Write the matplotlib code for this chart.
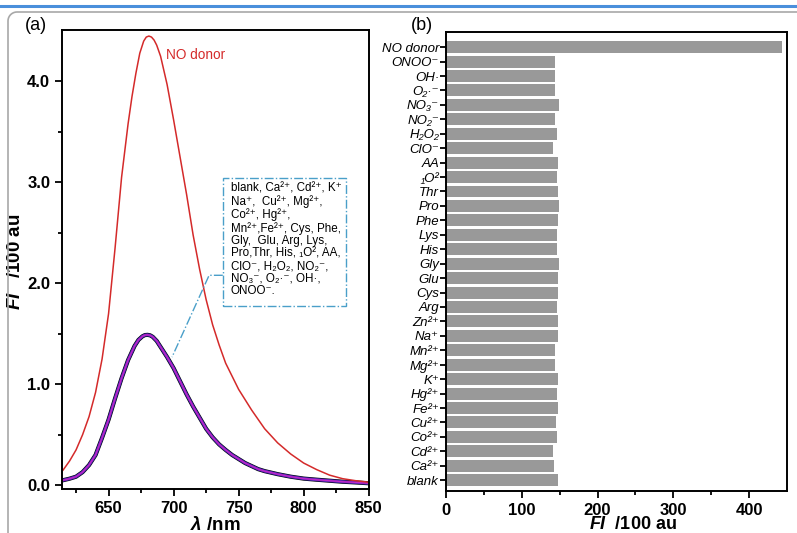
import numpy as np
import matplotlib
matplotlib.use('Agg')
import matplotlib.pyplot as plt
from matplotlib.lines import Line2D
from matplotlib.patches import Rectangle

plt.rcParams['font.family'] = ['Liberation Sans', 'DejaVu Sans']
plt.rcParams['mathtext.fontset'] = 'custom'
plt.rcParams['mathtext.bfit'] = 'Liberation Sans:italic:bold'
plt.rcParams['mathtext.it'] = 'Liberation Sans:italic'
plt.rcParams['mathtext.rm'] = 'Liberation Sans'

# panel (a): emission spectra
wl_red = [615, 620, 625, 630, 635, 640, 645, 650, 655, 660, 665, 668, 671, 674,
          677, 679, 681, 683, 685, 687, 690, 695, 700, 705, 710, 715, 720, 725,
          730, 735, 740, 745, 750, 760, 770, 780, 790, 800, 810, 820, 830, 840, 850]
fi_no_donor = [0.15, 0.24, 0.35, 0.50, 0.68, 0.92, 1.25, 1.70, 2.35, 3.05, 3.58,
               3.85, 4.08, 4.28, 4.40, 4.44, 4.45, 4.44, 4.41, 4.36, 4.25, 3.97,
               3.62, 3.25, 2.88, 2.48, 2.14, 1.84, 1.59, 1.39, 1.21, 1.08, 0.95,
               0.745, 0.56, 0.42, 0.31, 0.22, 0.155, 0.10, 0.065, 0.045, 0.03]
wl_others = [615, 620, 625, 630, 635, 640, 645, 650, 655, 660, 665, 670, 673,
             676, 678, 680, 682, 684, 687, 690, 695, 700, 705, 710, 715, 720,
             725, 730, 735, 740, 745, 750, 755, 760, 765, 770, 780, 790, 800,
             810, 820, 830, 840, 850]
fi_others = [0.05, 0.065, 0.085, 0.13, 0.20, 0.30, 0.47, 0.65, 0.86, 1.06, 1.24,
             1.38, 1.44, 1.475, 1.488, 1.49, 1.485, 1.47, 1.43, 1.37, 1.27, 1.16,
             1.03, 0.90, 0.78, 0.67, 0.56, 0.475, 0.405, 0.35, 0.30, 0.26, 0.22,
             0.19, 0.16, 0.14, 0.11, 0.085, 0.066, 0.055, 0.045, 0.035, 0.028, 0.02]

box_text = ("blank, Ca²⁺, Cd²⁺, K⁺\n"
            "Na⁺,  Cu²⁺, Mg²⁺,\n"
            "Co²⁺, Hg²⁺,\n"
            "Mn²⁺,Fe²⁺, Cys, Phe,\n"
            "Gly,  Glu, Arg, Lys,\n"
            "Pro,Thr, His, ₁O², AA,\n"
            "ClO⁻, H₂O₂, NO₂⁻,\n"
            "NO₃⁻, O₂·⁻, OH·,\n"
            "ONOO⁻.")

# panel (b): bar chart, bottom to top
species = ['blank', 'Ca²⁺', 'Cd²⁺', 'Co²⁺', 'Cu²⁺', 'Fe²⁺', 'Hg²⁺', 'K⁺',
           'Mg²⁺', 'Mn²⁺', 'Na⁺', 'Zn²⁺', 'Arg', 'Cys', 'Glu', 'Gly', 'His',
           'Lys', 'Phe', 'Pro', 'Thr', '₁O²', 'AA', 'ClO⁻', 'H₂O₂', 'NO₂⁻',
           'NO₃⁻', 'O₂·⁻', 'OH·', 'ONOO⁻', 'NO donor']
fi_bar = [147.5, 143, 141.8, 146.3, 145.3, 148.4, 146.3, 148.4, 144, 144,
          147.5, 147.5, 146.3, 147.5, 147.5, 149.7, 146.6, 146.6, 148.4, 149.7,
          148.4, 146.6, 148.4, 141.8, 146.6, 144, 149, 144, 144, 144, 443]

fig = plt.figure(figsize=(7.97, 5.33), dpi=100)

# page decoration lines
fig.add_artist(Line2D([0, 1], [1 - 5.7/533, 1 - 5.7/533], color='#4a8fdb', lw=2.2))
ang = np.linspace(np.pi, np.pi/2, 12)
r = 9
arc_x = 17 + r*np.cos(ang)
arc_y = 21 - r*np.sin(ang)
px = np.concatenate([[8], arc_x, [797]])
py = np.concatenate([[533], arc_y, [12]])
fig.add_artist(Line2D(px/797, 1 - py/533, color='#a8a8a8', lw=1.2))

# ---- (a)
ax = fig.add_axes([62/797, 1 - 489.3/533, 306.7/797, 459.3/533])
ax.plot(wl_others, fi_others, color='black', lw=3.0)
ax.plot(wl_others, fi_others, color='#3a2ab0', lw=2.2)
ax.plot(wl_others, fi_others, color='#8a20c0', lw=1.5)
ax.plot(wl_others, fi_others, color='#c828c8', lw=0.7)
ax.plot(wl_red, fi_no_donor, color='#d42a2a', lw=1.1)
ax.set_xlim(614.2, 850)
ax.set_ylim(-0.04, 4.51)
ax.set_xticks([650, 700, 750, 800, 850])
ax.set_xticks([625, 675, 725, 775, 825], minor=True)
ax.set_yticks([0, 1, 2, 3, 4])
ax.set_yticklabels(['0.0', '1.0', '2.0', '3.0', '4.0'])
ax.set_yticks([0.5, 1.5, 2.5, 3.5], minor=True)
ax.tick_params(which='both', direction='out', width=1.3, labelsize=12)
ax.tick_params(which='major', length=5)
ax.tick_params(which='minor', length=3)
for lab in ax.get_xticklabels() + ax.get_yticklabels():
    lab.set_fontweight('bold')
for s in ax.spines.values():
    s.set_linewidth(1.4)
ax.set_xlabel(r'$\mathbfit{\lambda}$ /nm', fontsize=13.5, fontweight='bold', labelpad=0)
ax.set_ylabel(r'$\mathbfit{FI}$   /100 au', fontsize=13.5, fontweight='bold')
ax.yaxis.set_label_coords(-(62 - 24)/306.7, 0.495)
ax.text(694.2, 4.26, 'NO donor', color='#d42a2a', fontsize=9.8, va='center')

box_col = '#4a9fc9'
ax.add_patch(Rectangle((737.8, 1.775), 94.9, 1.265, fill=False, ec=box_col,
                       lw=1.0, ls='-.'))
ax.plot([737.8, 727.3, 698.8], [2.08, 2.08, 1.27], color=box_col, lw=1.0, ls='-.')
ax.text(744.0, 3.0, box_text, fontsize=8.4, va='top', ha='left', linespacing=1.06)
fig.text(36/797, 1 - 25/533, '(a)', fontsize=13, ha='center', va='center')

# ---- (b)
bx = fig.add_axes([446/797, 1 - 491/533, 341/797, 459/533])
ypos = np.arange(len(species))
bx.barh(ypos, fi_bar, height=0.83, color='#999999')
bx.set_xlim(0, 450)
bx.set_ylim(-0.75, 31.05)
bx.set_yticks(ypos)
bx.set_yticklabels(species, fontsize=9.5, fontstyle='italic')
bx.set_xticks([0, 100, 200, 300, 400])
bx.set_xticks([50, 150, 250, 350], minor=True)
bx.tick_params(which='both', direction='out', width=1.3)
bx.tick_params(axis='x', which='major', length=5, labelsize=12)
bx.tick_params(axis='x', which='minor', length=3)
bx.tick_params(axis='y', length=4, pad=1)
for lab in bx.get_xticklabels():
    lab.set_fontweight('bold')
for s in bx.spines.values():
    s.set_linewidth(1.4)
bx.set_xlabel(r'$\mathbfit{FI}$  /100 au', fontsize=13, fontweight='bold', labelpad=0)
bx.xaxis.set_label_coords((633 - 446)/341, -0.055)
fig.text(422/797, 1 - 25/533, '(b)', fontsize=13, ha='center', va='center')

fig.savefig('out.png', dpi=100)
